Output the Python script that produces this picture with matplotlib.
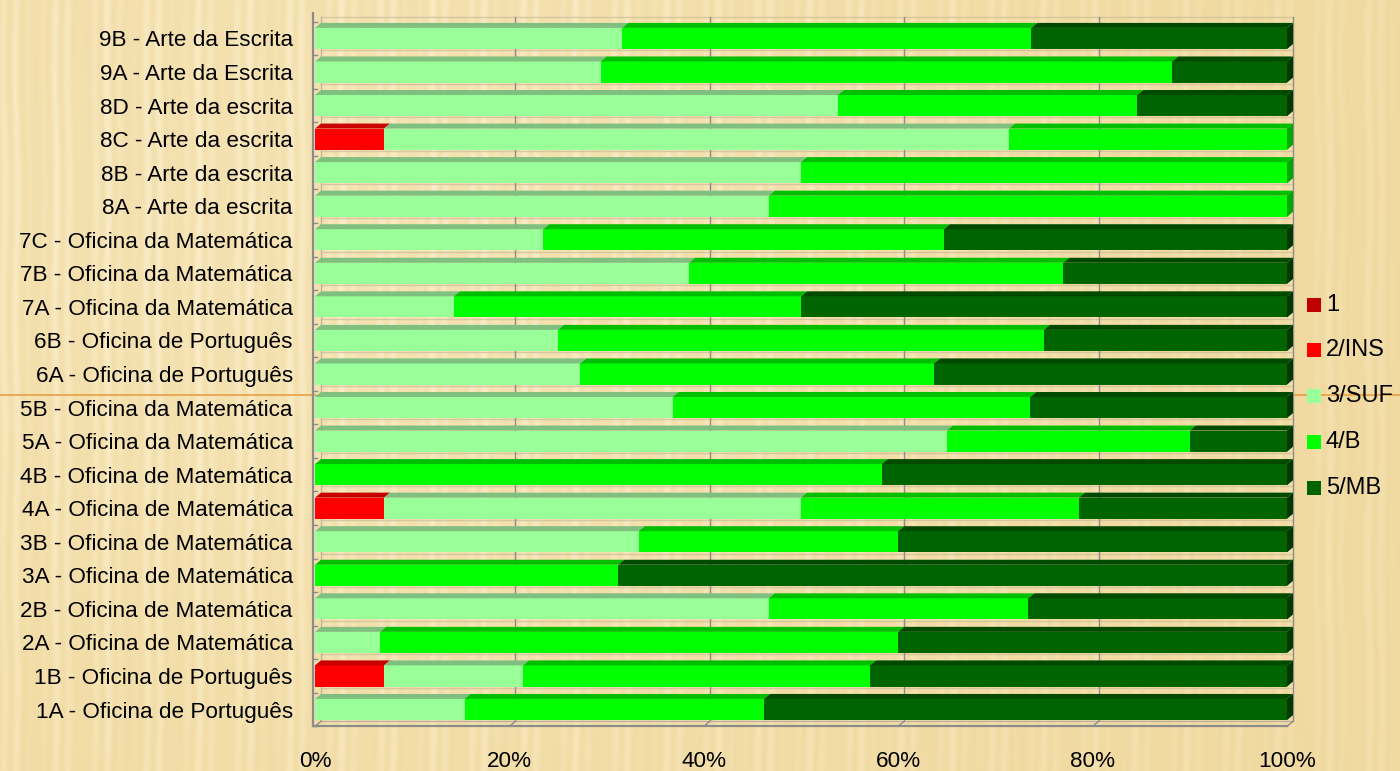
import numpy as np
import matplotlib
matplotlib.use('Agg')
import matplotlib.pyplot as plt
from matplotlib.patches import Polygon, Rectangle
from matplotlib.lines import Line2D

plt.rcParams['font.family'] = ['Liberation Sans', 'DejaVu Sans']

# ---------------- data (bottom row first) ----------------
categories = [
    '1A - Oficina de Português', '1B - Oficina de Português',
    '2A - Oficina de Matemática', '2B - Oficina de Matemática',
    '3A - Oficina de Matemática', '3B - Oficina de Matemática',
    '4A - Oficina de Matemática', '4B - Oficina de Matemática',
    '5A - Oficina da Matemática', '5B - Oficina da Matemática',
    '6A - Oficina de Português', '6B - Oficina de Português',
    '7A - Oficina da Matemática', '7B - Oficina da Matemática',
    '7C - Oficina da Matemática', '8A - Arte da escrita',
    '8B - Arte da escrita', '8C - Arte da escrita',
    '8D - Arte da escrita', '9A - Arte da Escrita', '9B - Arte da Escrita',
]
lvl1 = [0, 0, 0, 0, 0, 0, 0, 0, 0, 0, 0, 0, 0, 0, 0, 0, 0, 0, 0, 0, 0]
ins = [0, 7.1, 0, 0, 0, 0, 7.1, 0, 0, 0, 0, 0, 0, 0, 0, 0, 0, 7.1, 0, 0, 0]
suf = [15.4, 14.3, 6.7, 46.7, 0, 33.3, 42.9, 0, 65.0, 36.8, 27.3, 25.0,
       14.3, 38.5, 23.5, 46.7, 50.0, 64.3, 53.8, 29.4, 31.6]
bom = [30.8, 35.7, 53.3, 26.7, 31.2, 26.7, 28.6, 58.3, 25.0, 36.8, 36.4, 50.0,
       35.7, 38.5, 41.2, 53.3, 50.0, 28.6, 30.8, 58.8, 42.1]
mb = [53.8, 42.9, 40.0, 26.6, 68.8, 40.0, 21.4, 41.7, 10.0, 26.4, 36.3, 25.0,
      50.0, 23.0, 35.3, 0, 0, 0, 15.4, 11.8, 26.3]
series_names = ['1', '2/INS', '3/SUF', '4/B', '5/MB']
xticks = [0, 20, 40, 60, 80, 100]
tick_labels = ['0%', '20%', '40%', '60%', '80%', '100%']

front_colors = ['#C00000', '#FF0000', '#99FF99', '#00FF00', '#006400']
top_colors = ['#A00000', '#C80000', '#7FBF7F', '#00BE00', '#004A00']
side_colors = ['#900000', '#B00000', '#70A870', '#00A800', '#003800']

W, H = 1400, 771
fig = plt.figure(figsize=(W / 100, H / 100), dpi=100)

def fx(x):
    return x / W

def fy(y):
    return 1 - y / H

# ---------------- background texture ----------------
bg = fig.add_axes([0, 0, 1, 1], zorder=-5)
xs = np.arange(W)[None, :].astype(float)
ys = np.arange(H)[:, None].astype(float)
base = np.array([0.94, 0.85, 0.62])
light = np.array([0.99, 0.94, 0.81])
t = np.exp(-(((xs - 350) / 700) ** 2 + ((ys - 250) / 600) ** 2))
stripe = (0.5 + 0.5 * np.sin(2 * np.pi * xs / 13.0 + 0.6 * np.sin(ys / 40.0))) \
    * (0.55 + 0.45 * np.sin(2 * np.pi * xs / 47.0))
mix = np.clip(0.35 * t + 0.55 * stripe * (0.5 + 0.5 * t), 0, 1)
img = base[None, None, :] * (1 - mix[..., None]) + light[None, None, :] * mix[..., None]
bg.imshow(img, aspect='auto', extent=[0, 1, 0, 1], origin='upper')
bg.set_xlim(0, 1)
bg.set_ylim(0, 1)
bg.axis('off')
bg.add_line(Line2D([0, fx(316)], [fy(395), fy(395)], color='#E89A3C', lw=1.1))
bg.add_line(Line2D([fx(1291), 1], [fy(395), fy(395)], color='#E89A3C', lw=1.1))

# ---------------- main axes ----------------
ax_left, ax_right = 315, 1287
ax_top, ax_bot = 21.7, 726.3
ax = fig.add_axes([fx(ax_left), fy(ax_bot), (ax_right - ax_left) / W,
                   (ax_bot - ax_top) / H])
ax.set_facecolor('none')
n = len(categories)
ax.set_xlim(0, 100)
ax.set_ylim(-0.5, n - 0.5)
for s in ax.spines.values():
    s.set_visible(False)

px_x = 100 / (ax_right - ax_left)
px_y = n / (ax_bot - ax_top)
dx = 6 * px_x
dy = 5 * px_y
h = 0.63
ypos = np.arange(n)

# back wall gridlines and walls
grid_c = '#8C8C8C'
for xv in xticks[1:]:
    ax.add_line(Line2D([xv + dx, xv + dx], [-0.5 + dy, n - 0.5 + 0.15],
                       color=grid_c, lw=1.0, zorder=0.5, clip_on=False))
ax.add_line(Line2D([-0.25, -0.25], [-0.5, n - 0.5 + 0.25],
                   color=grid_c, lw=1.6, zorder=0.6, clip_on=False))
ax.add_line(Line2D([dx, dx], [-0.5 + dy, n - 0.5 + 0.15],
                   color='#B8B0A0', lw=0.8, zorder=0.5, clip_on=False))
ax.add_line(Line2D([-0.25, 100], [-0.5, -0.5],
                   color=grid_c, lw=1.6, zorder=0.6, clip_on=False))
ax.add_line(Line2D([dx, 100 + dx], [-0.5 + dy, -0.5 + dy],
                   color='#B8B0A0', lw=0.8, zorder=0.5, clip_on=False))
for xv in xticks:
    ax.add_line(Line2D([xv, xv + dx], [-0.5, -0.5 + dy],
                       color=grid_c, lw=1.0, zorder=0.6, clip_on=False))
for yb in np.arange(-0.5, n, 1.0):
    ax.add_line(Line2D([-0.25, 0.25], [yb, yb], color=grid_c, lw=1.0,
                       zorder=0.6, clip_on=False))
    ax.add_line(Line2D([dx, 100 + dx], [yb + dy, yb + dy], color='#C9BC98',
                       lw=1.0, zorder=0.4, alpha=0.7, clip_on=False))

series = [lvl1, ins, suf, bom, mb]
left = np.zeros(n)
last_idx = np.full(n, -1)
for k, vals in enumerate(series):
    vals = np.array(vals, dtype=float)
    ax.barh(ypos, vals, left=left, height=h, color=front_colors[k],
            edgecolor='none', zorder=2, label=series_names[k])
    for i in range(n):
        if vals[i] <= 0:
            continue
        l, r = left[i], left[i] + vals[i]
        yt = ypos[i] + h / 2
        ax.add_patch(Polygon([(l, yt), (r, yt), (r + dx, yt + dy), (l + dx, yt + dy)],
                             closed=True, facecolor=top_colors[k], edgecolor='none',
                             zorder=2, clip_on=False))
        last_idx[i] = k
    left = left + vals

for i in range(n):
    k = last_idx[i]
    yb = ypos[i] - h / 2
    yt = ypos[i] + h / 2
    r = left[i]
    ax.add_patch(Polygon([(r, yb), (r, yt), (r + dx, yt + dy), (r + dx, yb + dy)],
                         closed=True, facecolor=side_colors[k], edgecolor='none',
                         zorder=2.5, clip_on=False))

ax.set_yticks(ypos)
ax.set_yticklabels(categories, fontsize=16.2)
ax.set_xticks(xticks)
ax.set_xticklabels(tick_labels, fontsize=16.2)
ax.tick_params(axis='y', length=0, pad=16)
ax.tick_params(axis='x', length=0, pad=18)

# ---------------- legend ----------------
leg_y = [305, 350, 396, 442, 488]
for k, name in enumerate(series_names):
    fig.patches.append(Rectangle((fx(1307), fy(leg_y[k] + 7)), 14 / W, 14 / H,
                                 transform=fig.transFigure,
                                 facecolor=front_colors[k], edgecolor='none'))
    fig.text(fx(1326), fy(leg_y[k]), name, fontsize=17, va='center', ha='left')

fig.savefig('out.png', dpi=100)
